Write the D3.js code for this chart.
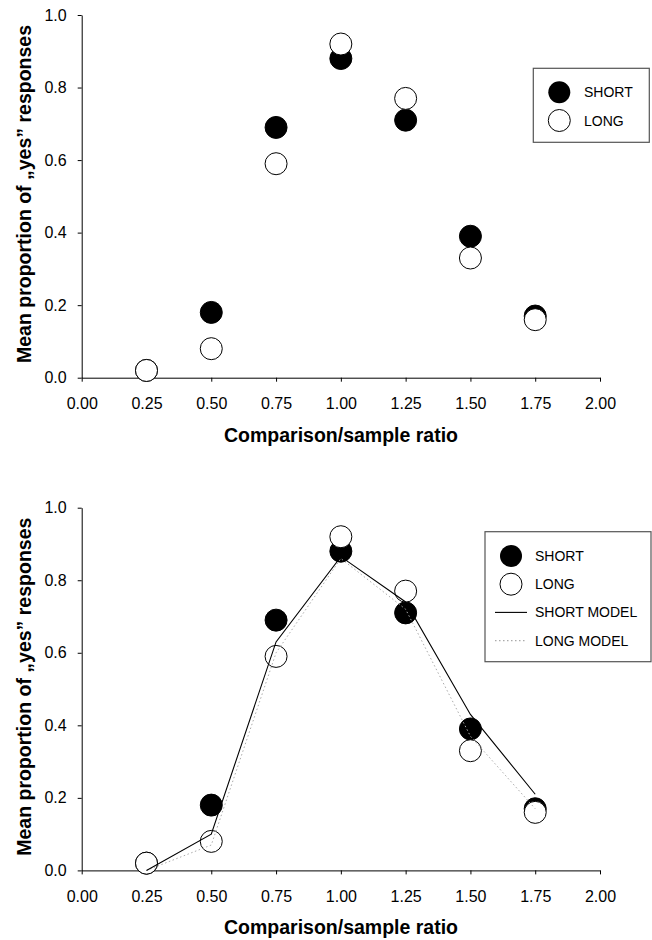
<!DOCTYPE html>
<html lang="en">
<head>
<meta charset="UTF-8">
<title>Comparison/sample ratio</title>
<style>
  body { margin: 0; background: #fff; }
  svg text { font-family: "Liberation Sans", Arial, sans-serif; fill: #000; }
  .axis path, .axis line { stroke: #000; stroke-width: 1; }
  .axis text { font-size: 16px; }
  .title { font-size: 19.5px; font-weight: bold; }
  .legend text { font-size: 14px; }
</style>
</head>
<body>
<svg id="chart" width="652" height="940"></svg>
<script src="https://cdn.jsdelivr.net/npm/d3@7"></script>
<script>
// data
const ratios     = [0.25, 0.50, 0.75, 1.00, 1.25, 1.50, 1.75];
const shortData  = [0.02, 0.18, 0.69, 0.88, 0.71, 0.39, 0.17];
const longData   = [0.02, 0.08, 0.59, 0.92, 0.77, 0.33, 0.16];
const shortModel = [0.00, 0.10, 0.63, 0.865, 0.74, 0.43, 0.21];
const longModel  = [0.00, 0.07, 0.60, 0.86, 0.72, 0.37, 0.17];
const xTicks = [0, 0.25, 0.5, 0.75, 1, 1.25, 1.5, 1.75, 2];
const yTicks = [0, 0.2, 0.4, 0.6, 0.8, 1.0];

const svg = d3.select('#chart');
const x = d3.scaleLinear().domain([0, 2]).range([81.7, 600]);

function panel(top, withModel, legendBox) {
  const y = d3.scaleLinear().domain([0, 1]).range([top + 362.7, top]);
  const g = svg.append('g');

  g.append('g').attr('class', 'axis')
    .attr('transform', `translate(0,${y(0)})`)
    .call(d3.axisBottom(x).tickValues(xTicks).tickFormat(d3.format('.2f'))
      .tickSize(4).tickSizeOuter(0).tickPadding(16));

  g.append('g').attr('class', 'axis')
    .attr('transform', `translate(${x(0)},0)`)
    .call(d3.axisLeft(y).tickValues(yTicks).tickFormat(d3.format('.1f'))
      .tickSize(4).tickSizeOuter(0).tickPadding(11));

  const pts = (vals) => ratios.map((r, i) => ({ r: r, v: vals[i] }));

  g.selectAll('.short').data(pts(shortData)).enter().append('circle')
    .attr('cx', d => x(d.r)).attr('cy', d => y(d.v)).attr('r', 11)
    .attr('fill', '#000').attr('stroke', '#000');
  g.selectAll('.long').data(pts(longData)).enter().append('circle')
    .attr('cx', d => x(d.r)).attr('cy', d => y(d.v)).attr('r', 11)
    .attr('fill', '#fff').attr('stroke', '#000').attr('stroke-width', 1);

  if (withModel) {
    const line = d3.line().x(d => x(d.r)).y(d => y(d.v));
    g.append('path').datum(pts(longModel)).attr('d', line)
      .attr('fill', 'none').attr('stroke', '#aaa').attr('stroke-width', 1)
      .attr('stroke-dasharray', '1.5,2.5');
    g.append('path').datum(pts(shortModel)).attr('d', line)
      .attr('fill', 'none').attr('stroke', '#000').attr('stroke-width', 1.1);
  }

  // axis titles
  g.append('text').attr('class', 'title')
    .attr('x', 341).attr('y', y(0) + 64)
    .attr('text-anchor', 'middle').text('Comparison/sample ratio');
  g.append('text').attr('class', 'title')
    .attr('transform', `translate(31,${top + 179}) rotate(-90)`)
    .attr('text-anchor', 'middle').text('Mean proportion of \u201Eyes\u201D responses');

  // legend
  const lg = g.append('g').attr('class', 'legend');
  lg.append('rect').attr('x', legendBox.x).attr('y', legendBox.y)
    .attr('width', legendBox.w).attr('height', legendBox.h)
    .attr('fill', '#fff').attr('stroke', '#555').attr('stroke-width', 1.2);
  const items = withModel ? ['SHORT', 'LONG', 'SHORT MODEL', 'LONG MODEL'] : ['SHORT', 'LONG'];
  items.forEach((name, i) => {
    const cy = legendBox.y + legendBox.first + i * 28.2;
    const sx = legendBox.sym;
    if (name === 'SHORT') {
      lg.append('circle').attr('cx', sx).attr('cy', cy).attr('r', 11).attr('fill', '#000');
    } else if (name === 'LONG') {
      lg.append('circle').attr('cx', sx).attr('cy', cy).attr('r', 11)
        .attr('fill', '#fff').attr('stroke', '#000');
    } else {
      lg.append('line').attr('x1', sx - 16).attr('x2', sx + 16).attr('y1', cy).attr('y2', cy)
        .attr('stroke', name === 'SHORT MODEL' ? '#000' : '#aaa')
        .attr('stroke-width', 1.1)
        .attr('stroke-dasharray', name === 'SHORT MODEL' ? null : '1.5,2.5');
    }
    lg.append('text').attr('x', legendBox.tx).attr('y', cy).attr('dy', '0.36em').text(name);
  });
}

panel(15, false, { x: 533.3, y: 68.3, w: 116, h: 74, first: 24, sym: 559.3, tx: 584 });
panel(507.7, true, { x: 485, y: 531.7, w: 166, h: 130, first: 24.3, sym: 511, tx: 535 });
</script>
</body>
</html>
